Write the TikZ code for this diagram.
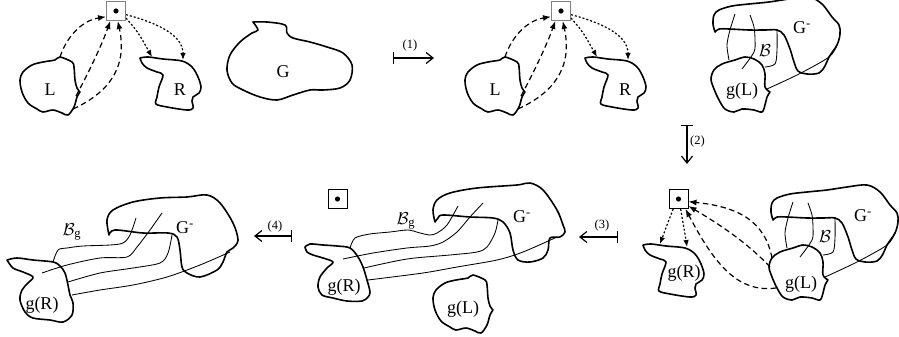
\documentclass[tikz,border=0pt]{standalone}
\usepackage{fontspec}
\setmainfont{Liberation Serif}
\usepackage{amsmath}
\usetikzlibrary{arrows.meta}
\newcommand\LRpanel[1]{%
  \node[ptbox, draw=gray] (box#1) at (116,11) {};
  \fill (box#1.center) circle (2.6);
  \draw[shapeline] plot[smooth, tension=.55] coordinates {(80,92) (77,97) (74,107) (68,115) (62,113) (53,110) (43,112) (37,109) (28,103) (22,92) (20,80) (23,72) (32,65) (43,62) (55,60) (60,57) (72,62) (74,67) (75,80) (77,88) (80,92)};
  \draw[shapeline] plot[smooth, tension=.55] coordinates {(140,58) (148,57) (163,59) (182,61) (192,67) (198,77) (201,87) (199,93) (193,97) (192,101) (193,108) (187,110) (167,107) (156,104) (157,97) (159,87) (163,75) (157,72) (147,68) (142,63) (140,58)};
  \node[lbl] (L#1) at (50,90) {L};
  \node[lbl] (R#1) at (180,90) {R};
  \coordinate (Ltop#1) at (60,57);
  \coordinate (Lra#1) at (76,96);
  \coordinate (Lrb#1) at (73,109);
  \coordinate (Rta#1) at (152,57);
  \coordinate (Rtb#1) at (183,60);
  \draw[dashedarr] (Ltop#1) .. controls (68,33) and (85,20) .. (box#1.-150);
  \draw[dashedarr] (Lra#1) .. controls (90,70) and (103,42) .. (box#1.-120);
  \draw[dashedarr] (Lrb#1) .. controls (108,93) and (128,68) .. (box#1.-80);
  \draw[dottedarr] (box#1.-35) .. controls (138,32) .. (Rta#1);
  \draw[dottedarr] (box#1.-20) .. controls (165,25) and (183,38) .. (Rtb#1);
}
\newcommand\Ggroup{%
  \draw[shapeline] plot[smooth, tension=.55] coordinates {(773,220) (771,212) (772,203) (777,198) (790,194) (807,192) (827,190) (847,187) (867,185) (880,192) (890,205) (897,213) (898,222) (895,233) (887,245) (883,254) (877,261) (865,262) (856,259) (852,250) (848,237) (842,223) (835,218) (823,218) (807,218) (787,217) (777,217) (773,220)};
  \draw[shapeline] plot[smooth, tension=.55] coordinates {(828,280) (825,285) (823,293) (820,300) (812,298) (800,297) (792,300) (783,297) (777,288) (772,277) (769,267) (772,258) (780,252) (793,248) (803,245) (812,247) (820,253) (823,262) (823,275) (828,280)};
  \draw[fine] plot[smooth] coordinates {(793,202) (788,218) (785,233) (787,248)};
  \draw[fine] plot[smooth] coordinates {(808,203) (812,215) (813,228) (812,240) (800,257)};
  \draw[fine] plot[smooth] coordinates {(835,218) (835,238) (833,252) (823,255)};
  \draw[fine] plot[smooth] coordinates {(825,277) (857,262) (887,245) (895,233)};
}
\begin{document}
\begin{tikzpicture}[x=1pt,y=-1pt,
  shapeline/.style={line width=1.6pt, line join=round, line cap=round},
  fine/.style={line width=0.85pt},
  dashedarr/.style={line width=1.2pt, dash pattern=on 5.5pt off 3.5pt, -{Latex[length=8pt,width=6pt]}},
  dottedarr/.style={line width=1.2pt, dash pattern=on 2pt off 2pt, -{Latex[length=7pt,width=5.5pt]}},
  lbl/.style={font=\fontsize{18}{20}\selectfont, inner sep=0pt},
  stepnum/.style={font=\fontsize{12.5}{14}\selectfont, inner sep=0pt},
  ptbox/.style={draw, minimum size=19pt, inner sep=0pt, line width=1pt},
  maparr/.style={line width=1.2pt, {Bar[width=12pt]}-{Straight Barb[length=7pt,width=11pt]}}
]
\useasboundingbox (0,0) rectangle (899,337);
\clip (0,0) rectangle (899,337);

% ---------- panel 1 ----------
\LRpanel{a}
\draw[shapeline] plot[smooth, tension=.55] coordinates {(253,22) (267,22) (285,25) (287,33) (293,38) (310,42) (327,47) (343,53) (352,65) (350,80) (340,88) (323,90) (310,90) (293,95) (277,100) (260,97) (243,90) (232,83) (227,70) (230,55) (240,42) (252,33) (258,30) (253,22)};
\node[lbl] (G) at (283,72) {G};

% arrow (1)
\coordinate (s1a) at (393,58);
\coordinate (s1b) at (434,58);
\draw[maparr] (s1a) -- (s1b);
\node[stepnum] (n1) at (410,45) {(1)};

% ---------- panel 2 ----------
\begin{scope}[shift={(445,0)}]
\LRpanel{b}
\end{scope}
\begin{scope}[shift={(-58,-188)}]
\Ggroup
\end{scope}
\node[lbl] (Gm2) at (802,28) {G\textsuperscript{-}};
\node[lbl] (B2) at (765,51) {$\mathcal{B}$};
\node[lbl] (gL2) at (742,91) {g(L)};

% arrow (2)
\coordinate (s2a) at (687,125);
\coordinate (s2b) at (687,164);
\draw[maparr] (s2a) -- (s2b);
\node[stepnum, anchor=west] (n2) at (690,141) {(2)};

% ---------- panel 3 (bottom right) ----------
\Ggroup
\node[lbl] (Gm3) at (863,216) {G\textsuperscript{-}};
\node[lbl] (B3) at (825,237) {$\mathcal{B}$};
\node[lbl] (gL3) at (801,284) {g(L)};
\node[ptbox] (boxc) at (678.5,199) {};
\fill (boxc.center) circle (2.6);
\begin{scope}[shift={(503,187)}]
\draw[shapeline] plot[smooth, tension=.55] coordinates {(140,58) (148,57) (163,59) (182,61) (192,67) (198,77) (201,87) (199,93) (193,97) (192,101) (193,108) (187,110) (167,107) (156,104) (157,97) (159,87) (163,75) (157,72) (147,68) (142,63) (140,58)};
\end{scope}
\node[lbl] (gR3) at (684,273) {g(R)};
\coordinate (gLa) at (772,258);
\coordinate (gLb) at (770,267);
\coordinate (gLc) at (776,288);
\coordinate (gRa) at (660,244);
\coordinate (gRb) at (687,247);
\draw[dashedarr] (gLa) .. controls (765,222) and (740,207) .. (boxc.-15);
\draw[dashedarr] (gLb) .. controls (745,240) and (712,220) .. (boxc.-35);
\draw[dashedarr] (gLc) .. controls (738,293) and (715,265) .. (boxc.-55);
\draw[dottedarr] (boxc.-118) .. controls (667,225) .. (gRa);
\draw[dottedarr] (boxc.-78) .. controls (684,225) .. (gRb);

% arrow (3)
\coordinate (s3a) at (618,237);
\coordinate (s3b) at (579,237);
\draw[maparr] (s3a) -- (s3b);
\node[stepnum] (n3) at (602,225) {(3)};

% ---------- panel 4 (bottom middle) ----------
\node[ptbox] (boxd) at (337.5,199) {};
\fill (boxd.center) circle (2.6);
\draw[shapeline] plot[smooth, tension=.55] coordinates {(435,222) (433,210) (437,200) (450,193) (477,188) (517,185) (530,183) (543,190) (557,210) (563,225) (565,232) (560,237) (550,238) (548,250) (543,258) (530,262) (518,260) (513,250) (510,233) (503,222) (493,218) (470,217) (443,215) (438,218) (435,222)};
\draw[shapeline] plot[smooth, tension=.55] coordinates {(305,247) (310,244) (323,245) (337,246) (350,248) (358,257) (363,267) (367,280) (370,292) (368,297) (362,301) (347,301) (333,298) (322,295) (318,287) (320,277) (327,268) (333,262) (323,258) (313,255) (307,252) (305,247)};
\draw[fine] plot[smooth] coordinates {(350,248) (355,238) (370,234) (390,232) (408,230) (420,233) (430,235) (437,233) (447,225) (458,206)};
\draw[fine] plot[smooth] coordinates {(483,203) (470,217) (457,232) (443,242) (430,246) (407,248) (373,253) (343,259)};
\draw[fine] plot[smooth] coordinates {(498,220) (495,233) (487,247) (477,252) (450,255) (407,259) (364,268)};
\draw[fine] plot[smooth] coordinates {(557,237) (523,252) (497,260) (457,267) (423,273) (368,280)};
\begin{scope}[shift={(413,218)}]
\draw[shapeline] plot[smooth, tension=.55] coordinates {(80,92) (77,97) (74,107) (68,115) (62,113) (53,110) (43,112) (37,109) (28,103) (22,92) (20,80) (23,72) (32,65) (43,62) (55,60) (60,57) (72,62) (74,67) (75,80) (77,88) (80,92)};
\end{scope}
\node[lbl] (Bg4) at (406,221) {$\mathcal{B}_{\text{g}}$};
\node[lbl] (Gm4) at (522,217) {G\textsuperscript{-}};
\node[lbl] (gR4) at (344,287) {g(R)};
\node[lbl] (gL4) at (463,309) {g(L)};

% arrow (4)
\coordinate (s4a) at (292,236);
\coordinate (s4b) at (254,236);
\draw[maparr] (s4a) -- (s4b);
\node[stepnum] (n4) at (275,226) {(4)};

% ---------- panel 5 (bottom left) ----------
\draw[shapeline] plot[smooth, tension=.55] coordinates {(109,235) (107,220) (113,210) (133,202) (160,198) (187,197) (207,195) (220,203) (233,223) (238,240) (233,248) (227,252) (223,262) (217,270) (200,277) (187,273) (182,267) (180,250) (177,237) (168,233) (143,233) (115,230) (109,235)};
\draw[shapeline] plot[smooth, tension=.55] coordinates {(7,260) (17,258) (33,260) (53,262) (60,266) (65,273) (68,285) (70,295) (73,303) (72,315) (63,322) (50,320) (33,318) (25,312) (20,300) (22,290) (28,283) (33,277) (23,272) (13,268) (7,260)};
\draw[fine] plot[smooth] coordinates {(53,262) (58,250) (67,248) (83,246) (110,245) (123,243) (130,235) (136,218)};
\draw[fine] plot[smooth] coordinates {(162,213) (150,230) (137,247) (127,257) (100,258) (67,265) (42,273)};
\draw[fine] plot[smooth] coordinates {(172,235) (168,253) (160,263) (133,268) (100,273) (68,282)};
\draw[fine] plot[smooth] coordinates {(230,252) (200,265) (167,277) (133,285) (100,290) (72,295)};
\node[lbl] (Bg5) at (72,232) {$\mathcal{B}_{\text{g}}$};
\node[lbl] (Gm5) at (185,228) {G\textsuperscript{-}};
\node[lbl] (gR5) at (42,305) {g(R)};
\end{tikzpicture}
\end{document}
